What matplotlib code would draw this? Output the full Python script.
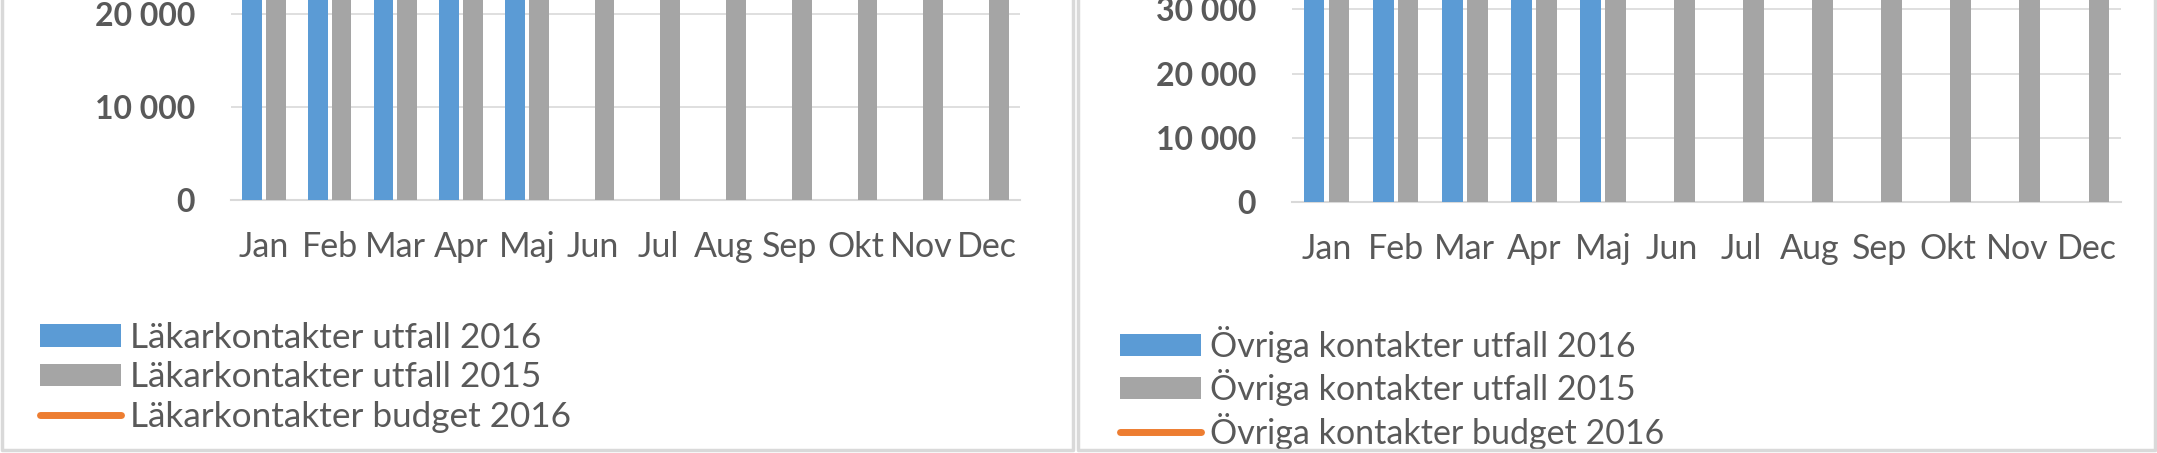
import numpy as np
import matplotlib
matplotlib.use('Agg')
import matplotlib.pyplot as plt
from matplotlib.ticker import FuncFormatter
from matplotlib.lines import Line2D

plt.rcParams['font.family'] = ['Lato', 'DejaVu Sans']

months = ['Jan', 'Feb', 'Mar', 'Apr', 'Maj', 'Jun', 'Jul', 'Aug', 'Sep', 'Okt', 'Nov', 'Dec']

# bars run past the top of the crop, so these are estimates
lak_2016 = [29500, 28800, 31200, 27900, 28400]
lak_2015 = [30100, 28300, 30800, 27600, 27200, 25900, 22600, 24600, 29400, 30700, 29200, 24100]
lak_budget = [30000, 29000, 31000, 29500, 29000, 27000, 23500, 25500, 30000, 31000, 30000, 25000]

ovr_2016 = [44800, 43100, 47200, 42600, 43900]
ovr_2015 = [45300, 42800, 46900, 41700, 41200, 39500, 33800, 37900, 44600, 46200, 44100, 37400]
ovr_budget = [46000, 44000, 47500, 44500, 44000, 41000, 35000, 39000, 45500, 47000, 45000, 38500]

lak_labels = ['Läkarkontakter utfall 2016', 'Läkarkontakter utfall 2015', 'Läkarkontakter budget 2016']
ovr_labels = ['Övriga kontakter utfall 2016', 'Övriga kontakter utfall 2015', 'Övriga kontakter budget 2016']

BLUE = '#5B9BD5'
GRAY = '#A5A5A5'
ORANGE = '#ED7D31'
TXT = '#595959'
GRID = '#D9D9D9'

W, H = 2157, 453
fig = plt.figure(figsize=(W / 100, H / 100), dpi=100)

def fmt(v, pos):
    return f'{int(v):,}'.replace(',', ' ')

def panel(rect, top, ticks, v16, v15, bud, labels, leg_xy, leg_fs, leg_sp):
    ax = fig.add_axes(rect)
    x = np.arange(len(months))
    b1 = ax.bar(x[:len(v16)] - 0.18, v16, width=0.3, color=BLUE, zorder=3)
    b2 = ax.bar(x + 0.18, v15, width=0.3, color=GRAY, zorder=3)
    ax.plot(x, bud, color=ORANGE, lw=5, solid_capstyle='round', zorder=4)
    ax.set_xlim(-0.5, 11.5)
    ax.set_ylim(0, top)
    ax.set_yticks(ticks)
    ax.yaxis.set_major_formatter(FuncFormatter(fmt))
    ax.set_xticks(x)
    ax.set_xticklabels(months)
    ax.grid(axis='y', color=GRID, lw=1.2, zorder=0)
    for s in ['top', 'right', 'left']:
        ax.spines[s].set_visible(False)
    ax.spines['bottom'].set_color(GRID)
    ax.spines['bottom'].set_linewidth(1.5)
    ax.tick_params(length=0)
    ax.tick_params(axis='x', labelsize=24.5, colors=TXT, pad=22)
    ax.tick_params(axis='y', labelsize=23, colors=TXT, pad=26)
    for t in ax.get_yticklabels():
        t.set_fontweight('bold')
    h3 = Line2D([0], [0], color=ORANGE, lw=5, solid_capstyle='round')
    fpx = leg_fs * 100 / 72
    ax.legend([b1, b2, h3], labels, loc='upper left',
              bbox_to_anchor=(leg_xy[0] / W, 1 - leg_xy[1] / H),
              bbox_transform=fig.transFigure, frameon=False,
              fontsize=leg_fs, labelcolor=TXT, handlelength=81 / fpx,
              handleheight=21 / fpx, handletextpad=9 / fpx, labelspacing=leg_sp,
              borderpad=0, borderaxespad=0)
    return ax

panel([231 / W, 1 - 200 / H, 789 / W, 200 / H], 20000 * 200 / 186,
      [0, 10000, 20000], lak_2016, lak_2015, lak_budget, lak_labels, (40, 322), 25.3, 0.21)
panel([1292 / W, 1 - 202 / H, 829 / W, 202 / H], 30000 * 202 / 192.6,
      [0, 10000, 20000, 30000], ovr_2016, ovr_2015, ovr_budget, ovr_labels, (1120, 326), 24.5, 0.19)

# chart borders
for x0, x1 in [(1.5, 1072.5), (1077.5, 2154.5)]:
    fig.add_artist(Line2D([x0 / W, x0 / W, x1 / W, x1 / W],
                          [1.02, 1 - 450 / H, 1 - 450 / H, 1.02],
                          transform=fig.transFigure, color=GRID, lw=2.5))

fig.savefig('out.png', dpi=100, facecolor='white')
